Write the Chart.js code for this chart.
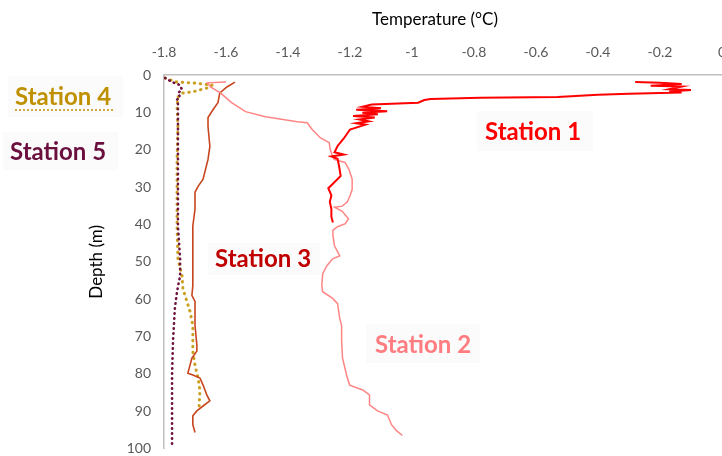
<!DOCTYPE html>
<html><head><meta charset="utf-8">
<script src="https://cdn.jsdelivr.net/npm/chart.js@4.4.1/dist/chart.umd.min.js"></script>
<style>
html,body{margin:0;padding:0;overflow:hidden;background:#fff;width:722px;height:456px}
#wrap{position:absolute;left:0;top:0;width:740px;height:470px}
</style>
</head><body><div id="wrap"><canvas id="c" width="740" height="470"></canvas></div>
<script>
// ---- Data ----
const xTickValues = [-1.8,-1.6,-1.4,-1.2,-1,-0.8,-0.6,-0.4,-0.2,0];
const depthTickValues = [0,10,20,30,40,50,60,70,80,90,100];
const stationNames = ['Station 1','Station 2','Station 3','Station 4','Station 5'];

const s1Depth = [1.9,2.1,2.4,2.9,3.1,3.8,4.0,4.4,4.7,5.0,5.3,5.9,6.1,6.4,6.7,7.4,7.9,8.5,8.9,9.3,9.7,10.1,10.5,11.0,11.4,11.9,12.4,12.9,13.3,14.6,17.0,19.0,20.7,21.3,21.8,22.4,24.5,27.0,29.5,30.3,32.2,34.0,35.9,38.0,39.5];
const s1Temp  = [-0.28,-0.20,-0.13,-0.23,-0.13,-0.17,-0.10,-0.17,-0.13,-0.30,-0.40,-0.53,-0.78,-0.94,-0.96,-0.98,-1.13,-1.16,-1.10,-1.18,-1.08,-1.16,-1.11,-1.19,-1.12,-1.17,-1.14,-1.18,-1.15,-1.20,-1.22,-1.24,-1.25,-1.22,-1.26,-1.24,-1.235,-1.23,-1.26,-1.27,-1.26,-1.265,-1.26,-1.26,-1.255];

const s2Depth = [1.9,2.1,3.2,4.8,7.4,9.8,11.2,11.7,12.5,12.8,14.6,16.8,18.1,19.9,21.3,22.6,23.4,25.3,27.9,30.6,32.4,34.0,35.1,35.4,36.5,38.5,39.8,40.6,41.5,43.0,45.7,48.4,49.2,51.1,53.2,56.4,58.0,59.8,61.2,65.2,67.0,71.3,75.8,80.3,83.0,84.3,85.6,88.3,89.9,91.0,93.6,95.2,96.5];
const s2Temp  = [-1.60,-1.66,-1.65,-1.618,-1.582,-1.537,-1.473,-1.431,-1.37,-1.338,-1.322,-1.296,-1.267,-1.264,-1.258,-1.251,-1.216,-1.203,-1.193,-1.193,-1.20,-1.209,-1.225,-1.25,-1.225,-1.205,-1.215,-1.24,-1.255,-1.255,-1.25,-1.233,-1.256,-1.275,-1.288,-1.291,-1.288,-1.256,-1.24,-1.233,-1.227,-1.227,-1.224,-1.211,-1.201,-1.159,-1.137,-1.137,-1.111,-1.079,-1.066,-1.05,-1.031];

const s3Depth = [1.9,3.2,4.8,7.4,9.3,11.4,13.8,19.1,22.6,27.9,29.8,31.4,35.9,40.4,49.2,56.4,59.0,60.6,67.0,72.3,73.9,75.8,79.8,80.3,81.1,83.0,85.6,87.2,88.6,89.9,91.2,93.6,95.7];
const s3Temp  = [-1.571,-1.597,-1.62,-1.626,-1.642,-1.658,-1.658,-1.652,-1.658,-1.674,-1.69,-1.70,-1.70,-1.707,-1.707,-1.707,-1.71,-1.70,-1.70,-1.694,-1.694,-1.71,-1.723,-1.707,-1.684,-1.674,-1.662,-1.652,-1.674,-1.694,-1.707,-1.707,-1.70];

const s4Depth = [0.8,1.9,2.1,2.7,3.5,4.5,4.8,5.9,8.5,13.8,22.6,31.4,40.4,49.2,53.7,57.2,63.3,67.0,73.9,77.7,81.1,84.6,89.1];
const s4Temp  = [-1.797,-1.758,-1.707,-1.645,-1.662,-1.707,-1.739,-1.755,-1.758,-1.755,-1.758,-1.758,-1.758,-1.755,-1.742,-1.739,-1.716,-1.707,-1.707,-1.70,-1.69,-1.684,-1.687];

const s5Depth = [0.8,1.9,2.7,4.0,4.8,5.9,6.6,7.4,13.8,22.6,31.4,40.4,49.2,53.7,58.0,62.5,71.3,80.3,89.1,98.9];
const s5Temp  = [-1.797,-1.774,-1.748,-1.742,-1.755,-1.748,-1.758,-1.755,-1.755,-1.755,-1.755,-1.755,-1.748,-1.748,-1.758,-1.765,-1.771,-1.774,-1.774,-1.774];

// ---- Build ----
const pts = (d,t) => d.map((v,i)=>({x:t[i], y:v}));

const labelPlugin = {
  id:'labels',
  afterDraw(chart){
    const ctx = chart.ctx;
    ctx.save();
    // x-axis title
    ctx.fillStyle = '#000';
    ctx.font = '17px Lato';
    ctx.textAlign = 'center';
    ctx.textBaseline = 'middle';
    ctx.fillText('Temperature (°C)', 435, 20);

    const items = [
      {t:stationNames[0], c:'#FF0000', x:485, y:132, b:[477,111,116,40]},
      {t:stationNames[1], c:'#FF7C80', x:375, y:345, b:[366,324,114,39]},
      {t:stationNames[2], c:'#C00000', x:215, y:259, b:[208,243,112,32]},
      {t:stationNames[3], c:'#BF9000', x:15,  y:97,  b:[8,76,115,41]},
      {t:stationNames[4], c:'#6B0F3F', x:10,  y:152, b:[3,132,115,38]}
    ];
    ctx.textAlign = 'left';
    for (const it of items){
      ctx.fillStyle = '#fbfbfb';
      ctx.fillRect(it.b[0], it.b[1], it.b[2], it.b[3]);
    }
    for (const it of items){
      ctx.fillStyle = it.c;
      ctx.font = 'bold 24px Lato';
      ctx.fillText(it.t, it.x, it.y);
    }
    // dotted underline Station 4
    ctx.strokeStyle = '#BF9000';
    ctx.lineWidth = 1.5;
    ctx.setLineDash([2,2]);
    ctx.beginPath(); ctx.moveTo(15,110); ctx.lineTo(113,110); ctx.stroke();
    ctx.restore();
  }
};

new Chart(document.getElementById('c'), {
  type:'scatter',
  data:{
    datasets:[
      {label:stationNames[0], data:pts(s1Depth,s1Temp), borderColor:'#FF0000', borderWidth:2},
      {label:stationNames[1], data:pts(s2Depth,s2Temp), borderColor:'#FF8585', borderWidth:1.5},
      {label:stationNames[2], data:pts(s3Depth,s3Temp), borderColor:'#C8461F', borderWidth:1.6},
      {label:stationNames[4], data:pts(s5Depth,s5Temp), borderColor:'#701440', borderWidth:2.6, borderDash:[0.5,4.5], borderCapStyle:'round'},
      {label:stationNames[3], data:pts(s4Depth,s4Temp), borderColor:'#C9A020', borderWidth:3, borderDash:[0.5,5.5], borderCapStyle:'round'}
    ]
  },
  options:{
    responsive:false,
    animation:false,
    devicePixelRatio:1,
    layout:{padding:{top:0,left:0,right:17,bottom:19}},
    elements:{point:{radius:0,hoverRadius:0}, line:{tension:0, fill:false}},
    datasets:{scatter:{showLine:true}},
    plugins:{legend:{display:false}, tooltip:{enabled:false}},
    scales:{
      x:{
        type:'linear', position:'top', min:-1.8, max:0,
        afterBuildTicks:s=>{ s.ticks = xTickValues.map(v=>({value:v})); },
        afterFit:s=>{ s.height = 75; },
        grid:{display:false, drawTicks:false},
        border:{display:true, color:'#c0c0c0', width:1.5},
        ticks:{color:'#595959', font:{family:'Lato', size:14}, padding:14, maxRotation:0,
          callback:v=>String(Math.round(v*10)/10)}
      },
      y:{
        type:'linear', reverse:true, min:0, max:100,
        afterBuildTicks:s=>{ s.ticks = depthTickValues.map(v=>({value:v})); },
        afterFit:s=>{ s.width = 164; },
        grid:{display:false, drawTicks:false},
        border:{display:true, color:'#c0c0c0', width:1.5},
        ticks:{color:'#595959', font:{family:'Lato', size:14}, padding:13},
        title:{display:true, text:'Depth (m)', color:'#000', font:{family:'Lato', size:17}, padding:{top:86,bottom:0}}
      }
    }
  },
  plugins:[labelPlugin]
});
</script>
</body></html>
